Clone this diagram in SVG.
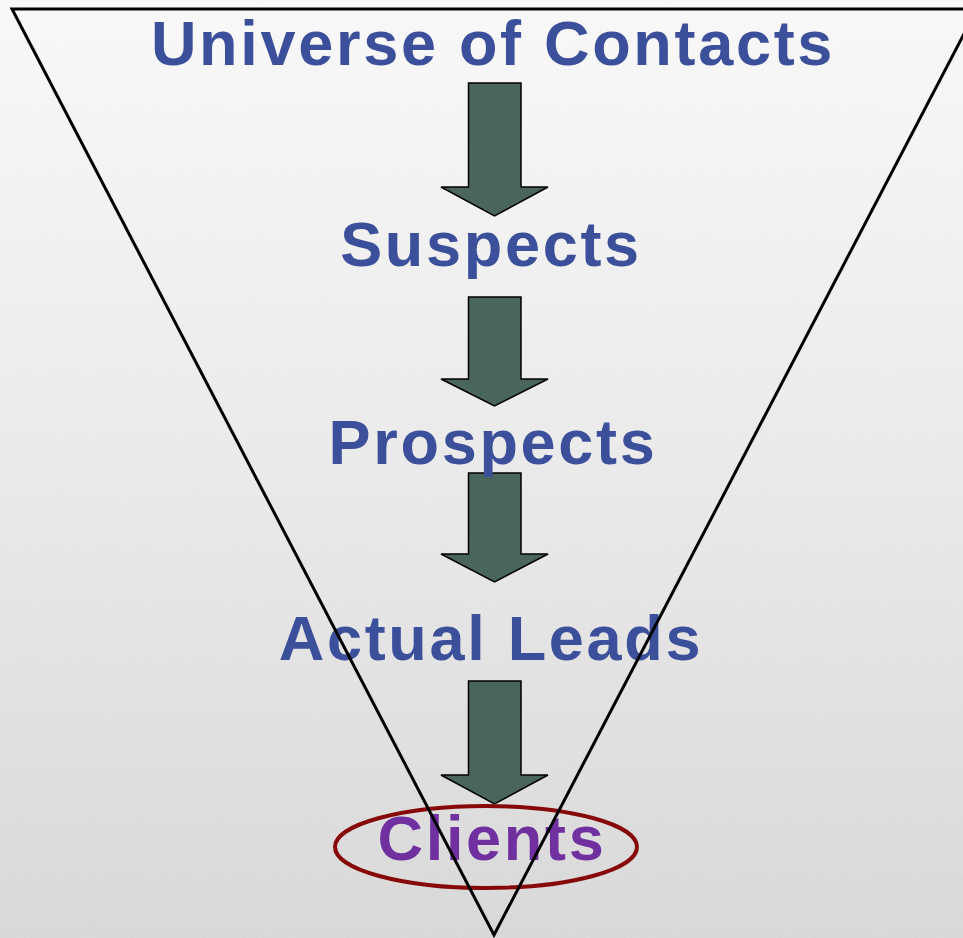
<svg xmlns="http://www.w3.org/2000/svg" width="963" height="938" viewBox="0 0 963 938">
  <defs>
    <linearGradient id="bg" x1="0" y1="0" x2="0" y2="1">
      <stop offset="0" stop-color="#f8f8f8"/>
      <stop offset="0.5" stop-color="#e9e9e9"/>
      <stop offset="1" stop-color="#d7d7d7"/>
    </linearGradient>
    <filter id="grain" x="0" y="0" width="100%" height="100%">
      <feTurbulence type="fractalNoise" baseFrequency="0.9" numOctaves="2" seed="3" result="n"/>
      <feColorMatrix in="n" type="matrix" values="0 0 0 0 1  0 0 0 0 1  0 0 0 0 1  0 0 0 0.35 -0.1" result="w"/>
      <feComposite in="w" in2="SourceGraphic" operator="in"/>
    </filter>
    <path id="arrowShape" d="M-26,0 H26 V0 Z"/>
  </defs>
  <style>
    .lbl { font-family: "Liberation Sans", Arial, sans-serif; font-weight: bold; font-size: 63px; letter-spacing: 2.7px; text-anchor: middle; fill: #3b4f9b; }
    .client { fill: #7030a0; }
    .arrow { fill: #4a655d; stroke: #000; stroke-width: 1.5; stroke-linejoin: miter; }
    .funnel { fill: none; stroke: #000; stroke-width: 3; stroke-linejoin: miter; }
    .ring { fill: none; stroke: #860808; stroke-width: 4; }
  </style>

  <rect width="963" height="938" fill="url(#bg)"/>
  <rect width="963" height="938" fill="#ffffff" filter="url(#grain)" opacity="0.6"/>

  <g id="connectors">
    <polygon class="arrow" points="468.5,83 521,83 521,187 548,187 494.5,216 441,187 468.5,187"/>
    <polygon class="arrow" points="468.5,297 521,297 521,379 548,379 494.5,406 441,379 468.5,379"/>
    <polygon class="arrow" points="468.5,473 521,473 521,554 548,554 494.5,582 441,554 468.5,554"/>
    <polygon class="arrow" points="468.5,681 521,681 521,775 548,775 494.5,804 441,775 468.5,775"/>
  </g>

  <g id="universe"><text class="lbl" x="493" y="65">Universe of Contacts</text></g>
  <g id="suspects"><text class="lbl" x="491" y="266">Suspects</text></g>
  <g id="prospects"><text class="lbl" x="493" y="464">Prospects</text></g>
  <g id="actual-leads"><text class="lbl" x="491" y="660">Actual Leads</text></g>
  <g id="clients">
    <text class="lbl client" x="492" y="860">Clients</text>
    <ellipse class="ring" cx="486" cy="847" rx="151" ry="41"/>
  </g>

  <g id="funnel">
    <polygon class="funnel" points="12,9 977,9 494,935"/>
  </g>
</svg>
